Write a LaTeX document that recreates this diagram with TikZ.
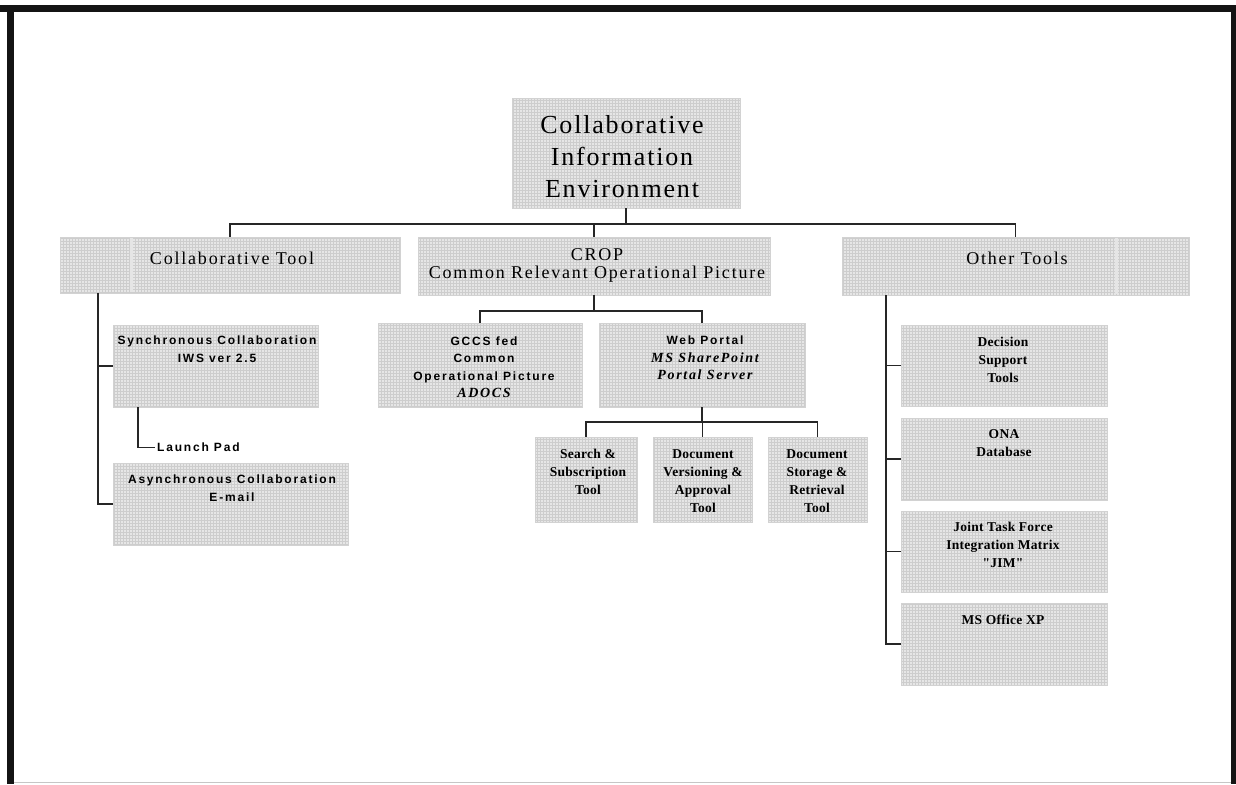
\documentclass[tikz,border=0pt]{standalone}
\usepackage{fontspec}
\setmainfont{Liberation Serif}
\newfontfamily\titlefont[LetterSpace=7]{Liberation Serif}
\newfontfamily\headfont[LetterSpace=10]{Liberation Serif}
\newfontfamily\smallserif[LetterSpace=2]{Liberation Serif}
\newfontfamily\italserif[LetterSpace=12]{Liberation Serif}
\newfontfamily\smallsans[LetterSpace=15]{Liberation Sans}
\usetikzlibrary{patterns}
\definecolor{boxfill}{HTML}{E6E6E6}
\definecolor{gridc}{HTML}{CDCDCD}
\newcommand{\itl}[1]{{\italserif\bfseries\itshape\fontsize{14}{17.5}\selectfont #1}}
\tikzset{
  box/.style={draw=gray!35, line width=0.6pt, preaction={fill=boxfill}, pattern=grid, pattern color=gridc, inner sep=0pt, minimum width=#1},
  conn/.style={draw=black!85, line width=1.6pt},
  ttitle/.style={align=center, inner sep=0pt, font=\titlefont\fontsize{26}{32}\selectfont},
  thead/.style={align=center, inner sep=0pt, font=\headfont\fontsize{18}{18}\selectfont},
  tsans/.style={align=center, inner sep=0pt, font=\smallsans\bfseries\fontsize{12}{17.5}\selectfont},
  tserif/.style={align=center, inner sep=0pt, font=\smallserif\bfseries\fontsize{13.5}{18}\selectfont},
}
\begin{document}
\begin{tikzpicture}[x=1pt,y=-1pt]
\useasboundingbox (0,0) rectangle (1236,784);
% frame
\fill[black!92] (0,5) rectangle (1236,12);
\fill[black!92] (7,5) rectangle (14,784);
\fill[black!92] (1231,5) rectangle (1236,784);
\draw[gray!45, line width=1.5pt] (14,782.5) -- (1231,782.5);

% boxes
\node[box=228, minimum height=110] (cie) at (626,153) {};
\node[box=340, minimum height=56] (ct) at (230,265) {};
\node[box=352, minimum height=58] (crop) at (594,266) {};
\node[box=347, minimum height=58] (ot) at (1015.5,266) {};
\node[box=205, minimum height=82] (sync) at (215.5,366) {};
\node[box=235, minimum height=82] (async) at (230.5,504) {};
\node[box=204, minimum height=84] (gccs) at (480,365) {};
\node[box=206, minimum height=84] (web) at (702,365) {};
\node[box=102, minimum height=85] (search) at (586,479.5) {};
\node[box=99, minimum height=85] (docver) at (702.5,479.5) {};
\node[box=99, minimum height=85] (docsto) at (817.5,479.5) {};
\node[box=206, minimum height=81] (dst) at (1004,365.5) {};
\node[box=206, minimum height=82] (ona) at (1004,459) {};
\node[box=206, minimum height=81] (jtf) at (1004,551.5) {};
\node[box=206, minimum height=82] (mso) at (1004,644) {};

% light dividers
\draw[white!80!gray, line width=3pt] (131,238) -- (131,292);
\draw[white!80!gray, line width=3pt] (1116.5,238) -- (1116.5,294);

% texts
\node[ttitle] (tcie) at (622,157) {Collaborative\\Information\\Environment};
\node[thead] (tct) at (232,258) {Collaborative Tool};
\node[thead] (tcrop) at (597,265) {CROP\\Common Relevant Operational Picture};
\node[thead] (tot) at (1017,258) {Other Tools};
\node[tsans] (tsync) at (217,349) {Synchronous Collaboration\\IWS ver 2.5};
\node[tsans, anchor=west, inner sep=2pt] (launch) at (155,447.5) {Launch Pad};
\node[tsans] (tasync) at (232,488) {Asynchronous Collaboration\\E-mail};
\node[tsans] (tgccs) at (484,367) {GCCS fed\\Common\\Operational Picture\\\itl{ADOCS}};
\node[tsans] (tweb) at (705,358) {Web Portal\\\itl{MS SharePoint}\\\itl{Portal Server}};
\node[tserif] (tsearch) at (588,471.5) {Search \&\\Subscription\\Tool};
\node[tserif] (tdocver) at (703,481) {Document\\Versioning \&\\Approval\\Tool};
\node[tserif] (tdocsto) at (817,481) {Document\\Storage \&\\Retrieval\\Tool};
\node[tserif] (tdst) at (1003,359.5) {Decision\\Support\\Tools};
\node[tserif] (tona) at (1004,443) {ONA\\Database};
\node[tserif] (tjtf) at (1003,545) {Joint Task Force\\Integration Matrix\\"JIM"};
\node[tserif] (tmso) at (1003,619.5) {MS Office XP};

% connectors
\coordinate (bus) at (0,224);
\draw[conn] (cie.south) -- (cie.south |- bus);
\draw[conn] (ct.north) |- (crop.north |- bus) -| (ot.north);
\draw[conn] (crop.north) -- (crop.north |- bus);

\coordinate (bus2) at (0,311);
\draw[conn] (crop.south) -- (crop.south |- bus2);
\draw[conn] (gccs.north) |- (web.north |- bus2) -- (web.north);

\coordinate (bus3) at (0,422);
\draw[conn] (web.south) -- (web.south |- bus3);
\draw[conn] (search.north) |- (docsto.north |- bus3) -- (docsto.north);
\draw[conn] (docver.north) -- (docver.north |- bus3);

\path (ct.south) ++(-132,0) coordinate (ctl);
\draw[conn] (ctl) |- (sync.west);
\draw[conn] (ctl) |- (async.west);

\path (sync.south) ++(-77.5,0) coordinate (lpt);
\draw[conn] (lpt) |- (launch.west);

\path (ot.south) ++(-129.5,0) coordinate (otl);
\draw[conn] (otl) |- (dst.west);
\draw[conn] (otl) |- (ona.west);
\draw[conn] (otl) |- (jtf.west);
\draw[conn] (otl) |- (mso.west);
\end{tikzpicture}
\end{document}
